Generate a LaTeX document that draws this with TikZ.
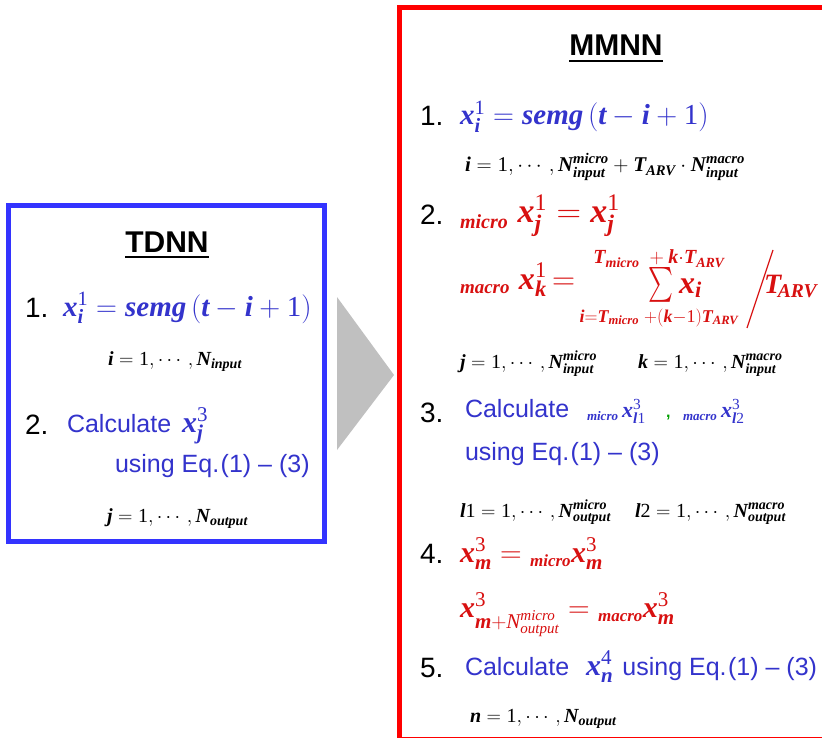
\RequirePackage{fix-cm}
\documentclass[tikz,border=0pt]{standalone}
\usepackage{amsmath}
\usepackage{fontspec}
\setmainfont{Liberation Serif}
\setsansfont{Liberation Sans}
\definecolor{tblue}{HTML}{3333CC}
\definecolor{bblue}{HTML}{3333FF}
\definecolor{tred}{HTML}{D81010}
\definecolor{bred}{HTML}{FF0000}
\definecolor{agray}{HTML}{C0C0C0}
\definecolor{cgreen}{HTML}{00A000}
\newcommand\BI[1]{\text{\normalfont\bfseries\itshape #1}}
\newcommand\RM[1]{\text{\normalfont #1}}
\newcommand\fs[1]{\fontsize{#1}{#1}\selectfont}
\newcommand\PRE[2]{\text{\normalfont\bfseries\itshape\fs{#1}#2}}
\begin{document}
\begin{tikzpicture}[x=1pt,y=-1pt,
  every node/.style={inner sep=0pt, outer sep=0pt, anchor=base west},
  num/.style={font=\sffamily\fs{28}, text=black},
  head/.style={font=\sffamily\bfseries\fs{30}, text=black, anchor=base},
  big/.style={font=\fs{29}},
  small/.style={font=\fs{20}, text=black},
  stxt/.style={font=\sffamily\fs{25}, text=tblue},
  redeq/.style={text=tred},
  uline/.style={line width=1.6, black}
]
\useasboundingbox (0,0) rectangle (822,738);
\fill[white] (0,0) rectangle (822,738);
% boxes
\begin{scope}
\clip (0,0) rectangle (822,738);
\draw[bred, line width=5] (399.5,7.5) rectangle (830,739.5);
\end{scope}
\draw[bblue, line width=5.5] (8.5,205.5) rectangle (324.5,541.5);
\fill[agray] (337,297) -- (394,375) -- (337,450) -- cycle;

% ---------- TDNN ----------
\node[head] (tdnn) at (167,252) {TDNN};
\draw[uline] ([yshift=-5pt]tdnn.base west) -- ([yshift=-5pt]tdnn.base east);
\node[num] (t1n) at (25,317) {1.};
\node[big, text=tblue] (t1f) at (63,316) {$\BI{x}^{\RM{1}}_{\BI{i}} = \BI{semg}\,(\BI{t}-\BI{i}+\RM{1})$};
\node[small] (t1r) at (108,365) {$\BI{i}=\RM{1},\cdots,\BI{N}_{\BI{input}}$};
\node[num] (t2n) at (25,434) {2.};
\node[stxt] (t2f) at (67,432) {Calculate\hspace{11pt}{\fs{30}$\BI{x}^{\RM{3}}_{\BI{j}}$}};
\node[stxt] (t2u) at (115,472) {using Eq.\hspace{1.5pt}(1) – (3)};
\node[small] (t2r) at (107,522) {$\BI{j}=\RM{1},\cdots,\BI{N}_{\BI{output}}$};

% ---------- MMNN ----------
\node[head] (mmnn) at (616,56) {MMNN};
\draw[uline] ([yshift=-5pt]mmnn.base west) -- ([yshift=-5pt]mmnn.base east);
\node[num] (m1n) at (420,126) {1.};
\node[big, text=tblue] (m1f) at (460,125) {$\BI{x}^{\RM{1}}_{\BI{i}} = \BI{semg}\,(\BI{t}-\BI{i}+\RM{1})$};
\node[small, font=\fs{21}] (m1r) at (465,172) {$\BI{i}=\RM{1},\cdots,\BI{N}^{\BI{micro}}_{\BI{input}}+\BI{T}_{\BI{ARV}}\cdot\BI{N}^{\BI{macro}}_{\BI{input}}$};

\node[num] (m2n) at (420,225) {2.};
\node[redeq, font=\fs{34}] (m2a) at (460,223) {${}_{\PRE{20}{micro}}\;\BI{x}^{\RM{1}}_{\BI{j}} = \BI{x}^{\RM{1}}_{\BI{j}}$};
\node[redeq, font=\fs{32}] (m2b) at (460,289) {${}_{\PRE{19}{macro}}\;\BI{x}^{\RM{1}}_{\BI{k}}\mkern-2mu=$};
\node[redeq, font=\fs{20}, anchor=base] (m2u) at (659,264) {$\BI{T}_{\BI{micro}}\;+\BI{k}{\cdot}\BI{T}_{\BI{ARV}}$};
\node[redeq, font=\fs{34}, anchor=center] (m2s) at (661,285) {\scalebox{0.95}[1.4]{$\textstyle\sum$}};
\node[redeq, font=\fs{32}] (m2x) at (679,293) {$\BI{x}_{\BI{i}}$};
\node[redeq, font=\fs{18}, anchor=base] (m2l) at (659,322) {$\BI{i}{=}\BI{T}_{\BI{micro}}\;{+}(\BI{k}{-}\RM{1})\BI{T}_{\BI{ARV}}$};
\coordinate (sl1) at (773,250);
\coordinate (sl2) at (747,328);
\draw[tred, line width=1.2] (sl1) -- (sl2);
\node[redeq, font=\fs{28}] (m2t) at (764,293) {$\BI{T}_{\mkern-3mu\BI{ARV}}$};
\node[small] (m2r1) at (460,368) {$\BI{j}=\RM{1},\cdots,\BI{N}^{\BI{micro}}_{\BI{input}}$};
\node[small] (m2r2) at (638,368) {$\BI{k}=\RM{1},\cdots,\BI{N}^{\BI{macro}}_{\BI{input}}$};

\node[num] (m3n) at (420,422) {3.};
\node[stxt] (m3a) at (465,417) {Calculate};
\node[font=\fs{22}, text=tblue] (m3b) at (587,417) {${}_{\PRE{13}{micro}}\,\BI{x}^{\RM{3}}_{\BI{l}\RM{1}}$};
\node[font=\sffamily\bfseries\fs{16}, text=cgreen] (m3c) at (666,417) {,};
\node[font=\fs{22}, text=tblue] (m3d) at (683,417) {${}_{\PRE{13}{macro}}\,\BI{x}^{\RM{3}}_{\BI{l}\RM{2}}$};
\node[stxt] (m3u) at (465,460) {using Eq.\hspace{1.5pt}(1) – (3)};
\node[small] (m3r1) at (460,517) {$\BI{l}\RM{1}=\RM{1},\cdots,\BI{N}^{\BI{micro}}_{\BI{output}}$};
\node[small] (m3r2) at (635,517) {$\BI{l}\RM{2}=\RM{1},\cdots,\BI{N}^{\BI{macro}}_{\BI{output}}$};

\node[num] (m4n) at (420,563) {4.};
\node[redeq, font=\fs{30}] (m4a) at (460,562) {$\BI{x}^{\RM{3}}_{\BI{m}}={}_{\PRE{17}{micro}}\BI{x}^{\RM{3}}_{\BI{m}}$};
\node[redeq, font=\fs{30}] (m4b) at (460,617) {$\BI{x}^{\RM{3}}_{\BI{m}+\RM{\itshape N}^{\RM{\itshape micro}}_{\RM{\itshape output}}}={}_{\PRE{17}{macro}}\BI{x}^{\RM{3}}_{\BI{m}}$};

\node[num] (m5n) at (420,677) {5.};
\node[stxt] (m5a) at (465,675) {Calculate\hspace{17pt}{\fs{30}$\BI{x}^{\RM{4}}_{\BI{n}}$}\hspace{9pt}using Eq.\hspace{1.5pt}(1) – (3)};
\node[small] (m5r) at (470,722) {$\BI{n}=\RM{1},\cdots,\BI{N}_{\BI{output}}$};
\end{tikzpicture}
\end{document}
